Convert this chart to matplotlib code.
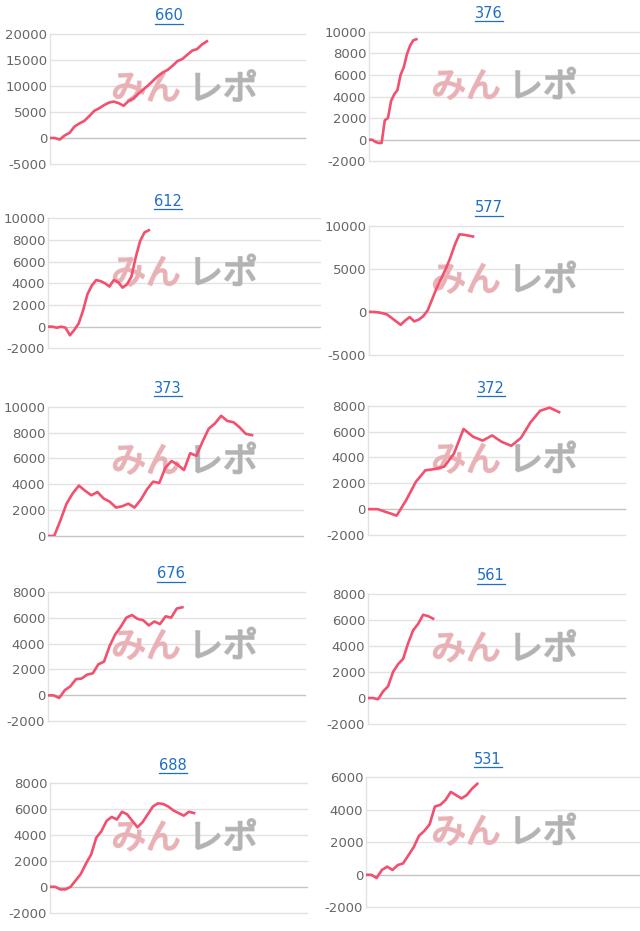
import matplotlib
matplotlib.use("Agg")
import matplotlib.pyplot as plt
import matplotlib.patheffects as pe
import numpy as np
from matplotlib.lines import Line2D

# Chart data (one cumulative series per machine)
titles = ["660", "376", "612", "577", "373", "372", "676", "561", "688", "531"]

vals_660 = [0, 0, -300, 500, 1000, 2200, 2800, 3300, 4200, 5200, 5700, 6300, 6800, 7000, 6700,
            6200, 7100, 7600, 8500, 9300, 10100, 11000, 11900, 12600, 13100, 13900, 14800,
            15200, 16000, 16800, 17100, 18000, 18600]
vals_376 = [0, 0, -200, -300, -300, 1800, 2000, 3600, 4200, 4600, 6000, 6700, 7900, 8700, 9200, 9300]
vals_612 = [0, 0, -100, 0, -100, -800, -300, 300, 1500, 3000, 3800, 4300, 4200, 4000, 3700,
            4300, 4100, 3600, 3900, 4600, 6400, 7900, 8700, 8900]
vals_577 = [0, 0, -50, -150, -300, -700, -1100, -1500, -1000, -600, -1100, -900, -500, 200,
            1500, 2800, 3900, 5000, 6300, 7800, 9000, 8950, 8850, 8750]
vals_373 = [0, 0, 1200, 2500, 3300, 3900, 3500, 3150, 3400, 2900, 2650, 2200, 2300, 2500, 2200,
            2800, 3600, 4200, 4100, 5300, 5800, 5500, 5100, 6400, 6200, 7300, 8300, 8700, 9300,
            8900, 8800, 8400, 7900, 7800]
vals_372 = [0, 0, -250, -500, 700, 2100, 3000, 3100, 3300, 4300, 6200, 5600, 5300, 5700, 5200,
            4900, 5500, 6700, 7600, 7850, 7500]
vals_676 = [0, 0, -200, 400, 700, 1250, 1300, 1600, 1700, 2400, 2600, 3800, 4700, 5300, 6000,
            6200, 5900, 5800, 5400, 5700, 5500, 6100, 6000, 6700, 6800]
vals_561 = [0, 0, -100, 500, 900, 2000, 2600, 3000, 4200, 5200, 5700, 6400, 6300, 6100]
vals_688 = [0, 0, -200, -200, 0, 500, 1000, 1800, 2500, 3800, 4300, 5100, 5400, 5200, 5800,
            5600, 5100, 4600, 5000, 5600, 6200, 6450, 6400, 6200, 5900, 5700, 5500, 5800, 5700]
vals_531 = [0, 0, -200, 300, 500, 300, 600, 700, 1200, 1700, 2400, 2700, 3100, 4200, 4300,
            4600, 5100, 4900, 4700, 4900, 5300, 5600]

series = [vals_660, vals_376, vals_612, vals_577, vals_373,
          vals_372, vals_676, vals_561, vals_688, vals_531]

yticks = [
    [-5000, 0, 5000, 10000, 15000, 20000],
    [-2000, 0, 2000, 4000, 6000, 8000, 10000],
    [-2000, 0, 2000, 4000, 6000, 8000, 10000],
    [-5000, 0, 5000, 10000],
    [0, 2000, 4000, 6000, 8000, 10000],
    [-2000, 0, 2000, 4000, 6000, 8000],
    [-2000, 0, 2000, 4000, 6000, 8000],
    [-2000, 0, 2000, 4000, 6000, 8000],
    [-2000, 0, 2000, 4000, 6000, 8000],
    [-2000, 0, 2000, 4000, 6000],
]

# layout in pixels: left, right, top, bottom, title x, title y, x extent
W, H = 640, 931
layout = [
    (50, 305, 34, 164, 169, 16, 52),
    (369, 640, 31.7, 161.3, 489, 13, 85.8),
    (48, 320, 218.3, 348.3, 168, 201, 62),
    (369, 623, 225.7, 355, 489, 207.7, 56.2),
    (48, 303, 406.7, 536, 168, 388.3, 41.25),
    (368, 625, 405.7, 535, 491, 388.3, 26.9),
    (48, 305, 591.7, 721.3, 171, 574, 45.9),
    (368, 625, 594, 724, 491, 576, 51.3),
    (50, 306.7, 783.3, 912.7, 173, 765, 49.9),
    (366, 640, 777.3, 907.3, 488, 759, 51.7),
]

LINE = "#f2506e"
GRID = "#e2e2e2"
BASE = "#c4c4c4"
TICK = "#666666"
TITLE = "#1f6fc5"
WM_PINK = "#e9b1b6"
WM_GRAY = "#b3b3b3"
WM_FONT = ["Noto Sans CJK JP", "DejaVu Sans"]

fig = plt.figure(figsize=(W / 100, H / 100), dpi=100)
fig.patch.set_facecolor("white")

title_texts = []
for vals, ticks, title, (l, r, t, b, tx, ty, xspan) in zip(series, yticks, titles, layout):
    ax = fig.add_axes([l / W, 1 - b / H, (r - l) / W, (b - t) / H])
    x = np.arange(len(vals))
    ax.set_xlim(0, xspan)
    ax.set_ylim(ticks[0], ticks[-1])
    ax.set_yticks(ticks)
    ax.set_yticklabels([str(v) for v in ticks])
    ax.set_xticks([])
    for s in ax.spines.values():
        s.set_visible(False)
    ax.axvline(0, color=GRID, lw=1, zorder=1, clip_on=False)
    for v in ticks:
        ax.axhline(v, color=BASE if v == 0 else GRID, lw=1, zorder=1, clip_on=False)
    ax.tick_params(axis="y", length=0, pad=2, labelsize=9.5, labelcolor=TICK)
    ax.plot(x, vals, color=LINE, lw=1.9, zorder=4, solid_joinstyle="round")

    # watermark, drawn under the line
    cx = 185 if l < 320 else 505
    cy = (t + b) / 2 - 9
    for dx, word, col in [(-39, "みん", WM_PINK), (38, "レポ", WM_GRAY)]:
        ax.text((cx + dx) / W, 1 - cy / H, word, color=col, fontsize=25, alpha=0.9,
                family=WM_FONT, ha="center", va="center", zorder=2,
                transform=fig.transFigure,
                path_effects=[pe.withStroke(linewidth=1.4, foreground=col)])

    tt = fig.text(tx / W, 1 - ty / H, title, color=TITLE, fontsize=10.5,
                  ha="center", va="center")
    title_texts.append(tt)

# underline the titles like links
fig.canvas.draw()
renderer = fig.canvas.get_renderer()
for tt in title_texts:
    bb = tt.get_window_extent(renderer)
    yline = (bb.y0 - 0.5) / H
    fig.add_artist(Line2D([bb.x0 / W, bb.x1 / W], [yline, yline], color=TITLE, lw=0.9))

fig.savefig("out.png", dpi=100)
